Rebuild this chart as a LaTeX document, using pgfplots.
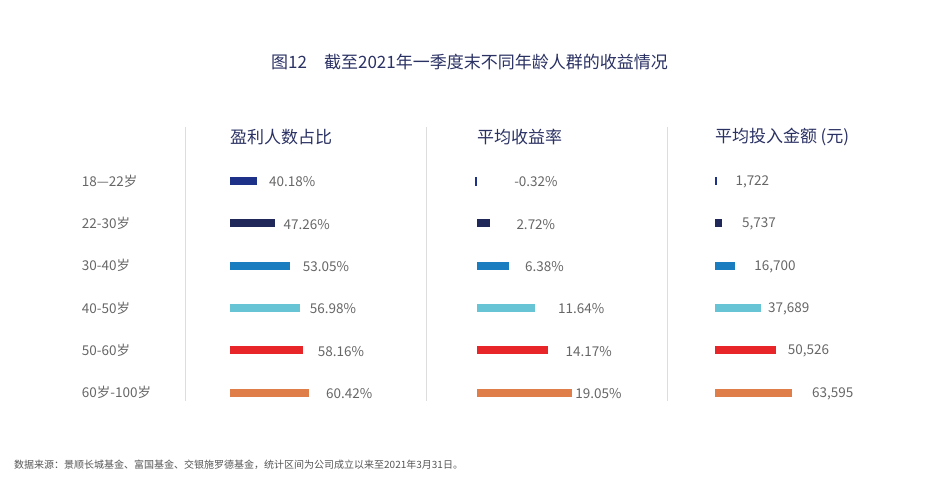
\documentclass[border=0pt]{standalone}
\usepackage{pgfplots}
\pgfplotsset{compat=1.18}
\usepackage{fontspec}
\setmainfont{Noto Sans CJK SC}
\definecolor{cA}{HTML}{1C3187}
\definecolor{cB}{HTML}{1F2858}
\definecolor{cC}{HTML}{1A7DBF}
\definecolor{cD}{HTML}{67C4D5}
\definecolor{cE}{HTML}{E8262A}
\definecolor{cF}{HTML}{DF7E48}
\definecolor{navy}{HTML}{2A3163}
\definecolor{txt}{HTML}{666666}
\definecolor{foot}{HTML}{555555}
\definecolor{sep}{HTML}{DDDDDD}
\pgfplotsset{
  panel/.style={
    scale only axis, width=150bp, height=254bp,
    ymin=-0.5, ymax=5.5, y dir=reverse,
    xbar, bar width=8bp, bar shift=0pt,
    clip mode=individual,
    axis line style={draw=none}, major tick length=0pt,
    xtick=\empty,
    every node near coord/.append style={font=\fontsize{13.5bp}{16bp}\selectfont, text=txt, anchor=west, inner xsep=0pt},
  },
  lab/.style={nodes near coords={#1}},
  off/.style={nodes near coords style={anchor=west, xshift=#1bp, yshift=-1bp}},
}
\begin{document}
\begin{tikzpicture}
\useasboundingbox (0,0) rectangle (935bp,-490bp);
% title
\node[anchor=west, inner sep=0pt, text=navy, font=\fontsize{17bp}{20bp}\selectfont] at (271bp,-61.7bp) {图12\hspace{1em}截至2021年一季度末不同年龄人群的收益情况};
% panel titles
\node[anchor=west, inner sep=0pt, text=navy, font=\fontsize{17bp}{20bp}\selectfont] at (230bp,-136.7bp) {盈利人数占比};
\node[anchor=west, inner sep=0pt, text=navy, font=\fontsize{17bp}{20bp}\selectfont] at (477bp,-136.7bp) {平均收益率};
\node[anchor=west, inner sep=0pt, text=navy, font=\fontsize{17bp}{20bp}\selectfont] at (715bp,-136.7bp) {平均投入金额\hspace{0.2em}(元)};
% separators
\draw[sep, line width=1bp] (185.3bp,-127bp) -- (185.3bp,-401bp);
\draw[sep, line width=1bp] (426.7bp,-127bp) -- (426.7bp,-401bp);
\draw[sep, line width=1bp] (667.3bp,-127bp) -- (667.3bp,-401bp);
% footnote
\node[anchor=west, inner sep=0pt, text=foot, font=\fontsize{10bp}{12bp}\selectfont] at (14bp,-465bp) {数据来源：景顺长城基金、富国基金、交银施罗德基金，统计区间为公司成立以来至2021年3月31日。};

% panel 1
\begin{axis}[panel, at={(230bp,-159.8bp)}, anchor=north west,
  xmin=30, xmax=87.47,
  ytick={0,1,2,3,4,5},
  yticklabels={18—22岁,22-30岁,30-40岁,40-50岁,50-60岁,60岁-100岁},
  yticklabel style={anchor=west, inner xsep=0pt, xshift=-148.3bp, font=\fontsize{13.5bp}{16bp}\selectfont, text=txt}]
\addplot[fill=cA, draw=none, lab={40.18\%}, off=12.4] coordinates {(40.18,0)};
\addplot[fill=cB, draw=none, lab={47.26\%}, off=8.3] coordinates {(47.26,1)};
\addplot[fill=cC, draw=none, lab={53.05\%}, off=12.5] coordinates {(53.05,2)};
\addplot[fill=cD, draw=none, lab={56.98\%}, off=9.3] coordinates {(56.98,3)};
\addplot[fill=cE, draw=none, lab={58.16\%}, off=14.2] coordinates {(58.16,4)};
\addplot[fill=cF, draw=none, lab={60.42\%}, off=16.6] coordinates {(60.42,5)};
\end{axis}

% panel 2
\begin{axis}[panel, at={(466.7bp,-159.8bp)}, anchor=north west,
  xmin=-2, xmax=28, ytick=\empty]
\addplot[fill=white, draw=cA, line width=0.5bp, lab={-0.32\%}, off=38.9] coordinates {(-0.32,0)};
\addplot[fill=cB, draw=none, lab={2.72\%}, off=26] coordinates {(2.72,1)};
\addplot[fill=cC, draw=none, lab={6.38\%}, off=16.4] coordinates {(6.38,2)};
\addplot[fill=cD, draw=none, lab={11.64\%}, off=23.1] coordinates {(11.64,3)};
\addplot[fill=cE, draw=none, lab={14.17\%}, off=17.8] coordinates {(14.17,4)};
\addplot[fill=cF, draw=none, lab={19.05\%}, off=3.3] coordinates {(19.05,5)};
\end{axis}

% panel 3
\begin{axis}[panel, at={(714.7bp,-159.8bp)}, anchor=north west,
  xmin=0, xmax=122951, ytick=\empty]
\addplot[fill=cA, draw=none, lab={1,722}, off=18.5] coordinates {(1722,0)};
\addplot[fill=cB, draw=none, lab={5,737}, off=20.3] coordinates {(5737,1)};
\addplot[fill=cC, draw=none, lab={16,700}, off=19.2] coordinates {(16700,2)};
\addplot[fill=cD, draw=none, lab={37,689}, off=7.3] coordinates {(37689,3)};
\addplot[fill=cE, draw=none, lab={50,526}, off=11.4] coordinates {(50526,4)};
\addplot[fill=cF, draw=none, lab={63,595}, off=19.7] coordinates {(63595,5)};
\end{axis}
\end{tikzpicture}
\end{document}
